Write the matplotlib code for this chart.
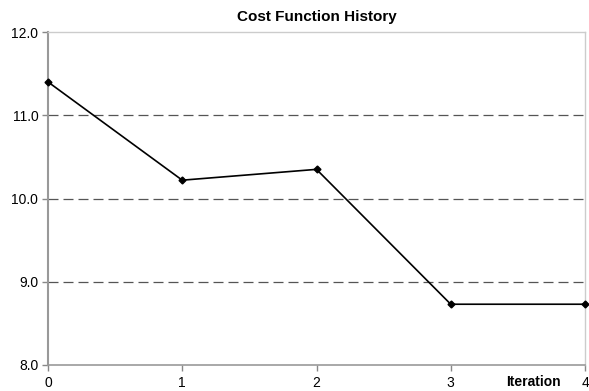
import matplotlib
matplotlib.use("Agg")
import matplotlib.pyplot as plt

plt.rcParams['font.family'] = ['Liberation Sans', 'DejaVu Sans']

iterations = [0, 1, 2, 3, 4]
cost = [11.40, 10.22, 10.35, 8.73, 8.73]
y_ticks = [8.0, 9.0, 10.0, 11.0, 12.0]

fig = plt.figure(figsize=(5.89, 3.91), dpi=100)
ax = fig.add_axes([48 / 589, 26 / 391, 537 / 589, 333 / 391])

for y in y_ticks[1:-1]:
    ax.axhline(y, color='#555555', lw=0.9, dashes=(8, 4), zorder=1)

ax.plot(iterations, cost, color='black', lw=1.2, marker='D', markersize=3.5, zorder=3,
        clip_on=False)

ax.set_xlim(0, 4)
ax.set_ylim(8, 12)
ax.set_xticks(iterations)
ax.set_yticks(y_ticks)
ax.set_yticklabels([f"{v:.1f}" for v in y_ticks])
ax.tick_params(axis='both', labelsize=10, length=4, width=1, color='#888888')
ax.tick_params(axis='x', pad=4)
ax.tick_params(axis='y', pad=3)

ax.spines['left'].set_color('#999999')
ax.spines['left'].set_linewidth(1.5)
ax.spines['bottom'].set_color('#999999')
ax.spines['bottom'].set_linewidth(1.2)
ax.spines['top'].set_color('#cccccc')
ax.spines['top'].set_linewidth(1)
ax.spines['right'].set_color('#cccccc')
ax.spines['right'].set_linewidth(1)

ax.set_title("Cost Function History", fontsize=11, fontweight='bold', pad=8)
ax.annotate("Iteration", xy=(3.82, 0), xycoords=('data', 'axes fraction'),
            xytext=(0, -12), textcoords='offset points',
            fontsize=10, fontweight='bold', ha='right', va='center')

fig.savefig("out.png", dpi=100)
